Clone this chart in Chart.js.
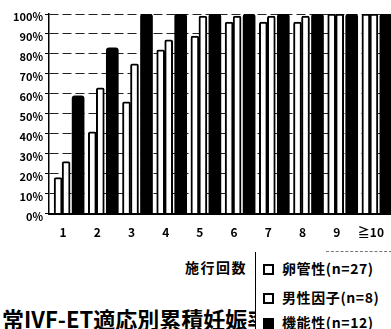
<!DOCTYPE html>
<html>
<head>
<meta charset="utf-8">
<script src="https://cdn.jsdelivr.net/npm/chart.js"></script>
<style>
  body { margin: 0; background: #fff; width: 391px; height: 329px; overflow: hidden; position: relative;
         font-family: "Noto Sans CJK JP", sans-serif; color: #000; }
  #wrap { position: absolute; left: 0; top: 0; width: 391px; height: 244px; }
  .title { position: absolute; left: 2px; top: 303px; font-size: 22px; font-weight: bold; white-space: nowrap; line-height: 30px; }
  .xname { position: absolute; left: 185px; top: 257px; font-size: 14px; font-weight: bold; letter-spacing: 1.5px; line-height: 20px; }
  .legend { position: absolute; left: 255px; top: 252px; width: 136px; height: 77px; background: #fff;
            border-left: 1.5px solid #000; }
  .legend:before { content: ""; position: absolute; left: 70px; right: 0; top: -1px; border-top: 1px dashed #777; }
  .item { position: absolute; left: 7px; font-size: 14px; font-weight: bold; white-space: nowrap; line-height: 20px; letter-spacing: 0.6px; }
  .sw { display: inline-block; width: 7px; height: 7px; border: 2px solid #000; background: #fff; margin-right: 8px; vertical-align: -1px; }
  .sw.black { background: #000; }
</style>
</head>
<body>
<div id="wrap"><canvas id="chart"></canvas></div>
<div class="title">常IVF-ET適応別累積妊娠率</div>
<div class="xname">施行回数</div>
<div class="legend" id="legend"></div>

<script>
// data (cumulative pregnancy rate, %)
const categories = ['1', '2', '3', '4', '5', '6', '7', '8', '9', '≧10'];
const seriesNames = ['卵管性(n=27)', '男性因子(n=8)', '機能性(n=12)'];
const tubal = [18, 41, 56, 82, 89, 96, 96, 96, 100, 100];
const maleFactor = [26, 63, 75, 87, 99, 99, 99, 99, 100, 100];
const functional = [59, 83, 100, 100, 100, 100, 100, 100, 100, 100];
const yMax = 100;
const yStep = 10;

// legend built from the series names
const legendEl = document.getElementById('legend');
const tops = [6, 35, 60];
seriesNames.forEach((name, i) => {
  legendEl.innerHTML += '<div class="item" style="top:' + tops[i] + 'px"><span class="sw' +
    (i == 2 ? ' black' : '') + '"></span>' + name + '</div>';
});

const ctx = document.getElementById('chart').getContext('2d');
new Chart(ctx, {
  type: 'bar',
  data: {
    labels: categories,
    datasets: [
      { label: seriesNames[0], data: tubal, backgroundColor: '#fff', borderColor: '#000', borderWidth: 2,
        barThickness: 8, borderRadius: { topLeft: 2, topRight: 2 } },
      { label: seriesNames[1], data: maleFactor, backgroundColor: '#fff', borderColor: '#000', borderWidth: 2,
        barThickness: 8, borderRadius: { topLeft: 2, topRight: 2 } },
      { label: seriesNames[2], data: functional, backgroundColor: '#000', borderColor: '#000', borderWidth: 0,
        barThickness: 12, borderRadius: { topLeft: 3, topRight: 3 } }
    ]
  },
  options: {
    responsive: true,
    maintainAspectRatio: false,
    animation: false,
    layout: { padding: { top: 14, right: 0, bottom: 0, left: 0 } },
    plugins: { legend: { display: false }, tooltip: { enabled: false } },
    scales: {
      x: {
        grid: { display: false },
        border: { display: true, color: '#000', width: 2 },
        ticks: { color: '#000', font: { family: 'Noto Sans CJK JP', size: 12, weight: 'bold' },
                 padding: 4, labelOffset: -3, maxRotation: 0, autoSkip: false }
      },
      y: {
        min: 0,
        max: yMax,
        afterFit: (scale) => { scale.width = 49; },
        grid: { color: '#222', lineWidth: 1, drawTicks: true, tickLength: 4, tickColor: '#000', tickBorderDash: [] },
        border: { display: true, color: '#000', width: 1.5, dash: [9, 4] },
        ticks: { stepSize: yStep, color: '#000', padding: 2, labelOffset: 3,
                 font: { family: 'Noto Sans CJK JP', size: 11, weight: 'bold' },
                 callback: (v) => v + '%' }
      }
    }
  }
});
</script>
</body>
</html>
